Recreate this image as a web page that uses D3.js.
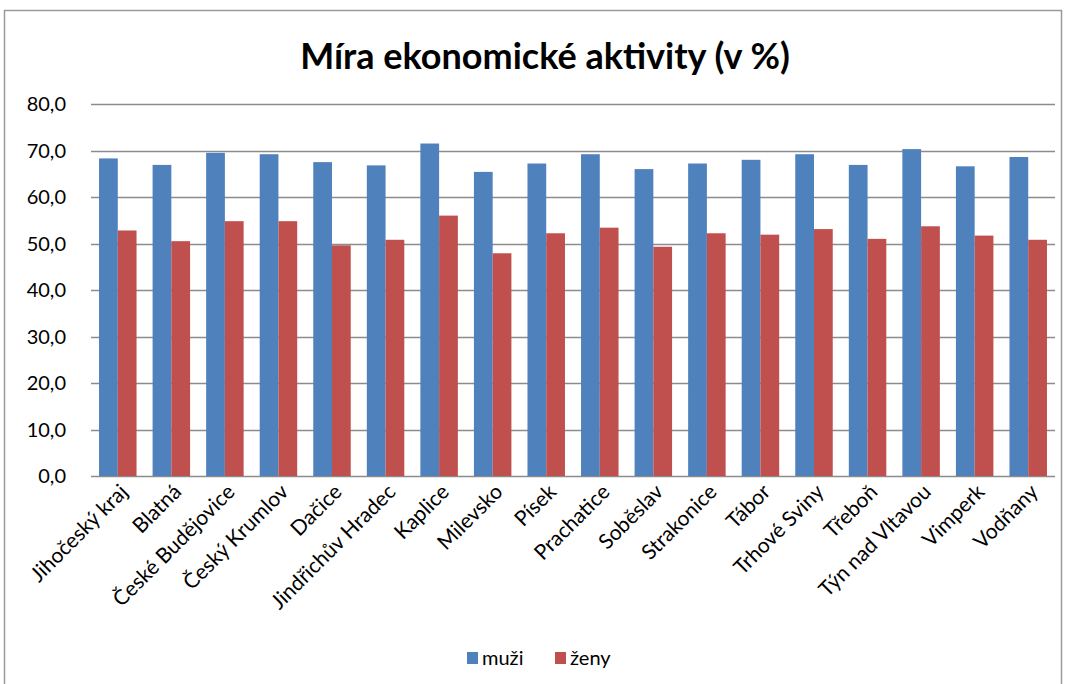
<!DOCTYPE html>
<html>
<head>
<meta charset="utf-8">
<script src="https://cdn.jsdelivr.net/npm/d3@7"></script>
<style>
  body { margin: 0; background: #fff; }
  text { font-family: Lato, "Noto Sans", sans-serif; fill: #000; }
</style>
</head>
<body>
<svg id="chart" width="1065" height="684"></svg>
<script>
// data
const categories = ["Jihočeský kraj", "Blatná", "České Budějovice", "Český Krumlov", "Dačice",
  "Jindřichův Hradec", "Kaplice", "Milevsko", "Písek", "Prachatice", "Soběslav", "Strakonice",
  "Tábor", "Trhové Sviny", "Třeboň", "Týn nad Vltavou", "Vimperk", "Vodňany"];
const muzi = [68.3, 66.9, 69.5, 69.2, 67.5, 66.8, 71.5, 65.4, 67.2, 69.2, 66.0, 67.2, 68.0, 69.2, 66.9, 70.3, 66.6, 68.6];
const zeny = [52.8, 50.5, 54.8, 54.8, 49.6, 50.8, 56.0, 47.9, 52.2, 53.4, 49.3, 52.2, 51.9, 53.1, 51.0, 53.7, 51.7, 50.8];
const seriesNames = ["muži", "ženy"];
const yTicks = [0, 10, 20, 30, 40, 50, 60, 70, 80];
const colors = ["#4F81BD", "#C0504D"];

const svg = d3.select("#chart");
const margin = {left: 91, right: 10, top: 104, bottom: 208};
const width = 1065, height = 684;

// outer frame
svg.append("rect")
  .attr("x", 4.5).attr("y", 10.5)
  .attr("width", 1057).attr("height", 690)
  .attr("fill", "none").attr("stroke", "#9a9a9a").attr("stroke-width", 1.5);

const x = d3.scaleBand()
  .domain(categories)
  .range([margin.left, width - margin.right])
  .paddingInner(0.3)
  .paddingOuter(0.15);

const xs = d3.scaleBand()
  .domain(seriesNames)
  .range([0, x.bandwidth()]);

const y = d3.scaleLinear()
  .domain([0, 80])
  .range([height - margin.bottom, margin.top]);

// gridlines
svg.append("g")
  .selectAll("line")
  .data(yTicks)
  .join("line")
  .attr("x1", margin.left).attr("x2", width - margin.right)
  .attr("y1", d => Math.round(y(d)) + 0.5).attr("y2", d => Math.round(y(d)) + 0.5)
  .attr("stroke", "#8c8c8c").attr("stroke-width", 1.3);

// y labels
svg.append("g")
  .selectAll("text")
  .data(yTicks)
  .join("text")
  .attr("x", 66)
  .attr("y", d => y(d))
  .attr("dy", "0.35em")
  .attr("text-anchor", "end")
  .style("font-size", "20px")
  .text(d => d3.format(".1f")(d).replace(".", ","));

// bars
const rows = categories.map((c, i) => ({cat: c, vals: [muzi[i], zeny[i]]}));
const groups = svg.append("g")
  .selectAll("g")
  .data(rows)
  .join("g")
  .attr("transform", d => `translate(${x(d.cat)},0)`);

groups.selectAll("rect")
  .data(d => d.vals.map((v, k) => ({name: seriesNames[k], v, k})))
  .join("rect")
  .attr("x", d => xs(d.name))
  .attr("width", xs.bandwidth())
  .attr("y", d => y(d.v))
  .attr("height", d => y(0) - y(d.v))
  .attr("fill", d => colors[d.k]);

// x labels, rotated
svg.append("g")
  .selectAll("text")
  .data(categories)
  .join("text")
  .attr("transform", d => `translate(${x(d) + x.bandwidth() / 2 + 6},${y(0) + 12}) rotate(-45)`)
  .attr("text-anchor", "end")
  .attr("dy", "0.35em")
  .style("font-size", "21px")
  .text(d => d);

// title
svg.append("text")
  .attr("x", 545).attr("y", 69)
  .attr("text-anchor", "middle")
  .style("font-size", "36px")
  .style("font-weight", "bold")
  .text("Míra ekonomické aktivity (v %)");

// legend
const legend = svg.append("g").attr("transform", "translate(467,652)");
const items = legend.selectAll("g")
  .data(seriesNames)
  .join("g")
  .attr("transform", (d, i) => `translate(${i * 88},0)`);
items.append("rect")
  .attr("width", 11).attr("height", 12)
  .attr("fill", (d, i) => colors[i]);
items.append("text")
  .attr("x", 15).attr("y", 6)
  .attr("dy", "0.35em")
  .style("font-size", "20px")
  .text(d => d);
</script>
</body>
</html>
